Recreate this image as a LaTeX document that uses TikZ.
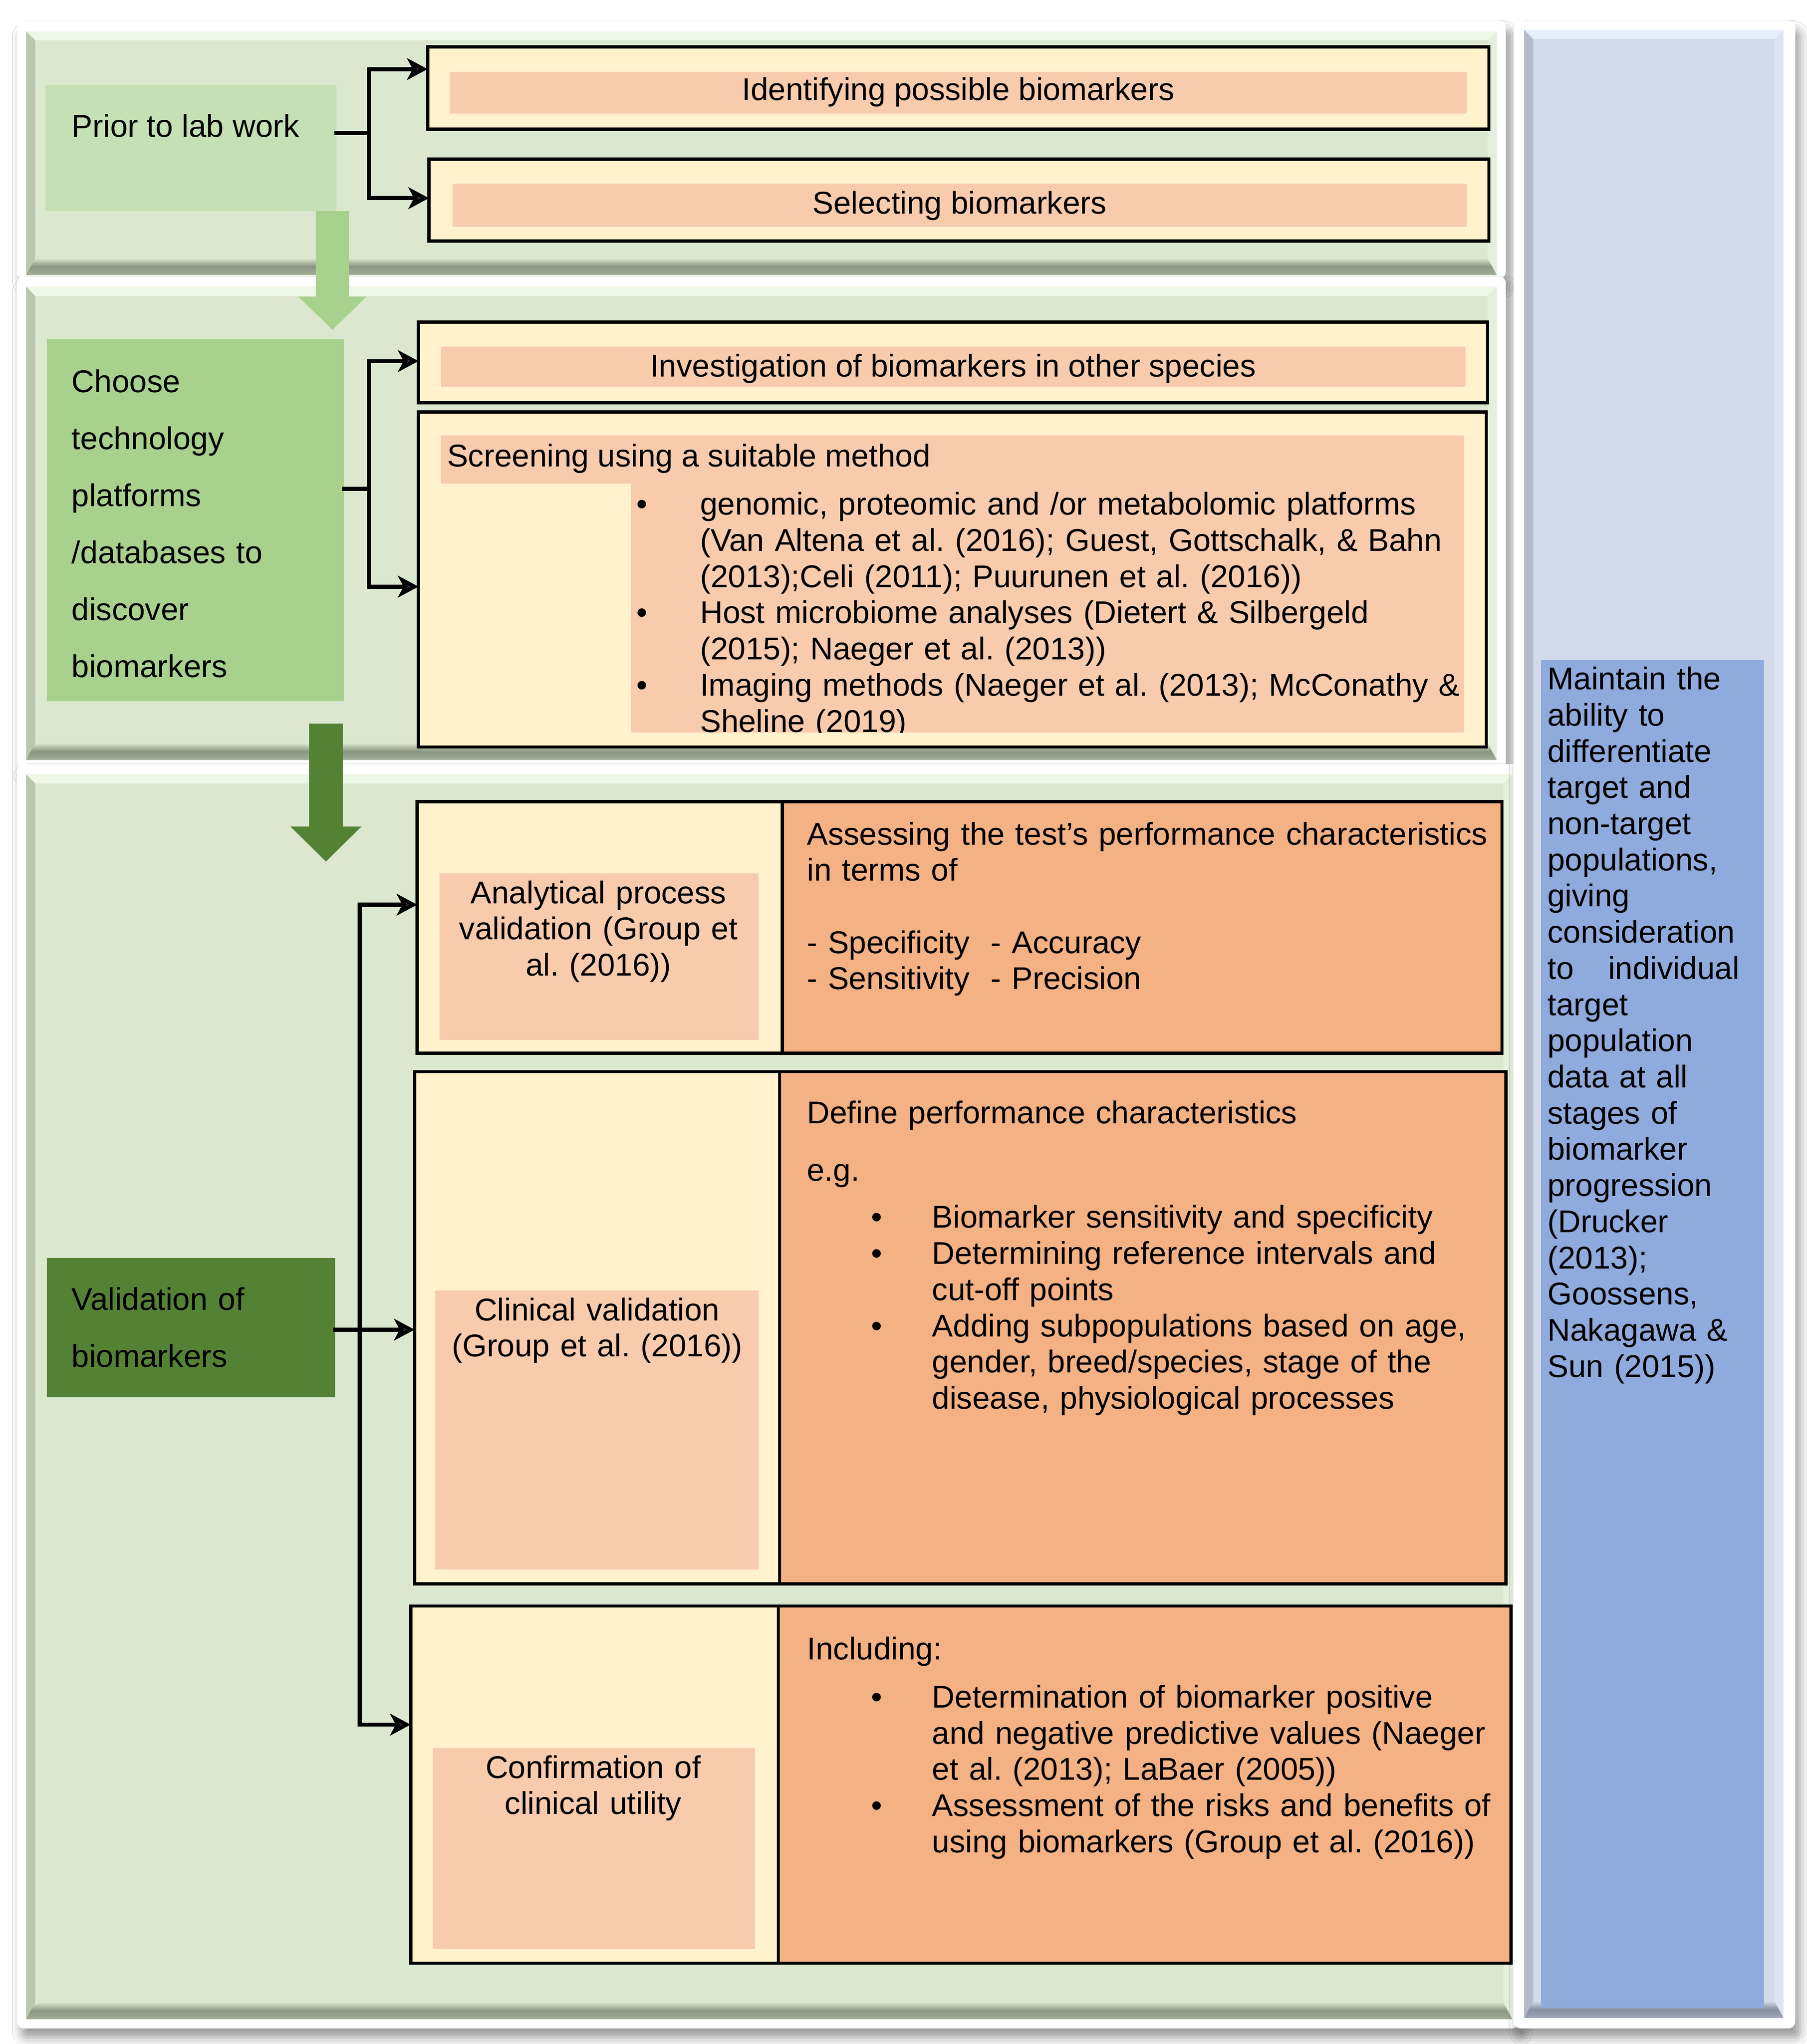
\documentclass[tikz,border=0pt]{standalone}
\usepackage{fontspec}
\setmainfont{Liberation Sans}
\usetikzlibrary{arrows.meta,shadows.blur,fit,calc}
\frenchspacing
\definecolor{pgreen}{HTML}{DCE7D0}
\definecolor{plight}{HTML}{EFF8E6}
\definecolor{pdark}{HTML}{7C8874}
\definecolor{bpanel}{HTML}{D3DAEA}
\definecolor{blight}{HTML}{E6EEFC}
\definecolor{bdark}{HTML}{7A8294}
\definecolor{cream}{HTML}{FFF2CC}
\definecolor{pinkc}{HTML}{F8CBAD}
\definecolor{orangec}{HTML}{F4B183}
\definecolor{lgbox}{HTML}{C5E0B4}
\definecolor{mgbox}{HTML}{A9D18E}
\definecolor{dgbox}{HTML}{548235}
\definecolor{bluebox}{HTML}{8FAADC}
\newcommand{\bl}[1]{\leavevmode\llap{\makebox[#1][l]{•}}}
\newcommand{\bevpanel}[7]{%
  \fill[#5] (#1,#2) rectangle (#3,#4);
  \fill[#6] (#1,#2) -- (#3,#2) -- (#3-7,#2+7) -- (#1+7,#2+7) -- cycle;
  \fill[#6!50!#5] (#3,#2) -- (#3,#4) -- (#3-7,#4-13) -- (#3-7,#2+7) -- cycle;
  \fill[#7!35!#5] (#1,#2) -- (#1+7,#2+7) -- (#1+7,#4-13) -- (#1,#4) -- cycle;
  \shade[top color=#5, bottom color=#7!60!#5, middle color=#7!85!#5] (#1+7,#4-13) -- (#3-7,#4-13) -- (#3,#4) -- (#1,#4) -- cycle;
}
\begin{document}
\begin{tikzpicture}[x=0.02cm,y=-0.02cm,
  txt/.style={inner sep=0pt, outer sep=0pt, font=\fontsize{13.75pt}{15.8pt}\selectfont, text=black},
  txtl/.style={txt, anchor=base west, text width=20cm, align=left},
  txtc/.style={txt, anchor=base, text width=8cm, align=center},
  dbl/.style={font=\fontsize{13.75pt}{24.9pt}\selectfont},
  bx/.style={inner sep=0pt, outer sep=0pt, draw=black, line width=1.4pt},
  plain/.style={inner sep=0pt, outer sep=0pt},
  conn/.style={line width=1.8pt, -{Stealth[length=9pt,width=9.5pt,inset=2.5pt]}},
  stub/.style={line width=1.8pt, line cap=rect},
  frame/.style={fill=white, rounded corners=3pt, blur shadow={shadow xshift=2pt, shadow yshift=-4pt, shadow blur radius=4pt, shadow opacity=40}},
]
\useasboundingbox (0,0) rectangle (1386,1568);
\fill[white] (0,0) rectangle (1386,1568);

% ---------- panels ----------
\fill[frame] (13,16) rectangle (1155,214);
\bevpanel{20}{24}{1148}{211}{pgreen}{plight}{pdark}
\fill[frame] (13,212) rectangle (1155,590);
\bevpanel{20}{220}{1148}{583}{pgreen}{plight}{pdark}
\fill[frame] (13,586) rectangle (1165,1556);
\bevpanel{20}{594}{1160}{1549}{pgreen}{plight}{pdark}
\fill[frame] (1161,16) rectangle (1377,1556);
\bevpanel{1169}{23}{1368}{1548}{bpanel}{blight}{bdark}

% ---------- stage 1 ----------
\node[fit={(35,65)(258,162)}, plain, fill=lgbox] (prior) {};
\node[txt, anchor=base west] (priorT) at (55,105) {Prior to lab work};
\node[fit={(328,36)(1142,99)}, bx, fill=cream] (ident) {};
\fill[pinkc] (345,55) rectangle (1125,87);
\node[txt, anchor=base] (identT) at (735,77) {Identifying possible biomarkers};
\node[fit={(329,122)(1142,185)}, bx, fill=cream] (select) {};
\fill[pinkc] (347,141) rectangle (1125,174);
\node[txt, anchor=base] (selectT) at (736,164) {Selecting biomarkers};

\coordinate (j1) at (283,102);
\coordinate (t1a) at (0,53);
\coordinate (t1b) at (0,152);
\draw[stub] (prior.east |- j1) -- (j1);
\draw[conn] (j1) |- (ident.west |- t1a);
\draw[conn] (j1) |- (select.west |- t1b);

% ---------- stage 2 ----------
\node[fit={(36,260)(264,538)}, plain, fill=mgbox] (choose) {};
\node[txtl, dbl] (chooseT) at (55,301) {Choose\\technology\\platforms\\/databases to\\discover\\biomarkers};
\node[fit={(321,247)(1141,309)}, bx, fill=cream] (invest) {};
\fill[pinkc] (338,266) rectangle (1124,297);
\node[txt, anchor=base] (investT) at (731,289) {Investigation of biomarkers in other species};
\node[fit={(321,316)(1140,573)}, bx, fill=cream] (screen) {};
\fill[pinkc] (338,334) -- (1123,334) -- (1123,562) -- (484,562) -- (484,371) -- (338,371) -- cycle;
\node[txt, anchor=base west] (screenH) at (343,358) {Screening using a suitable method};
\begin{scope}
\clip (338,334) rectangle (1123,562);
\node[txtl] (screenT) at (537,395) {\bl{27.8pt}genomic, proteomic and /or metabolomic platforms\\
(Van Altena et al. (2016); Guest, Gottschalk, \& Bahn\\
(2013);Celi (2011); Puurunen et al. (2016))\\
\bl{27.8pt}Host microbiome analyses (Dietert \& Silbergeld\\
(2015); Naeger et al. (2013))\\
\bl{27.8pt}Imaging methods (Naeger et al. (2013); McConathy \&\\
Sheline (2019)};
\end{scope}

\coordinate (j2) at (283,375);
\coordinate (t2a) at (0,277);
\coordinate (t2b) at (0,450);
\draw[stub] (choose.east |- j2) -- (j2);
\draw[conn] (j2) |- (invest.west |- t2a);
\draw[conn] (j2) |- (screen.west |- t2b);

% light green arrow stage1 -> stage2
\coordinate (xa) at (255,0);
\coordinate (ga1) at (255,253);
\draw[mgbox, line width=14.7pt, -{Triangle[length=14.5pt,width=29pt]}] (prior.south -| xa) -- (ga1);

% dark green arrow stage2 -> stage3
\coordinate (ga2s) at (250,555);
\coordinate (ga2e) at (250,661);
\draw[dgbox, line width=14.7pt, -{Triangle[length=15.3pt,width=30pt]}] (ga2s) -- (ga2e);

% ---------- stage 3 ----------
\node[fit={(36,965)(257,1072)}, plain, fill=dgbox] (valid) {};
\node[txtl, dbl] (validT) at (55,1005) {Validation of\\biomarkers};

\node[fit={(320,615)(600,808)}, bx, fill=cream] (aL) {};
\fill[pinkc] (337,670) rectangle (582,798);
\node[txtc] (aLT) at (459,693) {Analytical process\\validation (Group et\\al. (2016))};
\node[fit={(600,615)(1152,808)}, bx, fill=orangec] (aR) {};
\node[txtl] (aRT) at (619,648) {Assessing the test’s performance characteristics\\in terms of\\[15.8pt]- Specificity\ \ - Accuracy\\- Sensitivity\ \ - Precision};

\node[fit={(318,822)(598,1215)}, bx, fill=cream] (bL) {};
\fill[pinkc] (334,990) rectangle (582,1204);
\node[txtc] (bLT) at (458,1013) {Clinical validation\\(Group et al. (2016))};
\node[fit={(598,822)(1155,1215)}, bx, fill=orangec] (bR) {};
\node[txtl] (bRT1) at (619,862) {Define performance characteristics};
\node[txtl] (bRT2) at (619,906) {e.g.};
\node[txtl] (bRT3) at (715,942) {\bl{26.6pt}Biomarker sensitivity and specificity\\
\bl{26.6pt}Determining reference intervals and\\
cut-off points\\
\bl{26.6pt}Adding subpopulations based on age,\\
gender, breed/species, stage of the\\
disease, physiological processes};

\node[fit={(315,1232)(597,1506)}, bx, fill=cream] (cL) {};
\fill[pinkc] (332,1341) rectangle (579,1495);
\node[txtc] (cLT) at (455,1364) {Confirmation of\\clinical utility};
\node[fit={(597,1232)(1159,1506)}, bx, fill=orangec] (cR) {};
\node[txtl] (cRT1) at (619,1273) {Including:};
\node[txtl] (cRT2) at (715,1310) {\bl{26.6pt}Determination of biomarker positive\\
and negative predictive values (Naeger\\
et al. (2013); LaBaer (2005))\\
\bl{26.6pt}Assessment of the risks and benefits of\\
using biomarkers (Group et al. (2016))};

\coordinate (j3) at (276,1020);
\coordinate (t3a) at (0,694);
\coordinate (t3b) at (0,1020);
\coordinate (t3c) at (0,1323);
\draw[stub] (valid.east |- j3) -- (j3);
\draw[conn] (j3) |- (aL.west |- t3a);
\draw[conn] (j3) -- (bL.west |- t3b);
\draw[conn] (j3) |- (cL.west |- t3c);

% ---------- side panel ----------
\node[fit={(1182,506)(1353,1540)}, plain, fill=bluebox] (maint) {};
\node[txtl] (maintT) at (1187,529) {Maintain the\\ability to\\differentiate\\target and\\non-target\\populations,\\giving\\consideration\\to\hspace{15pt}individual\\target\\population\\data at all\\stages of\\biomarker\\progression\\(Drucker\\(2013);\\Goossens,\\Nakagawa \&\\Sun (2015))};
\end{tikzpicture}
\end{document}
